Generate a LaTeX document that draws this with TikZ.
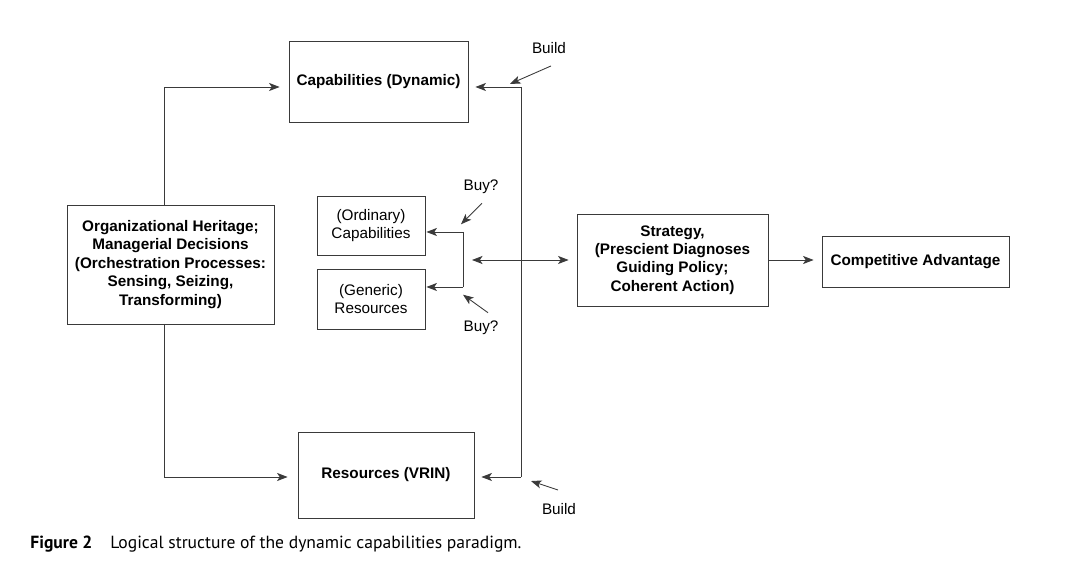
\documentclass[tikz,border=0pt]{standalone}
\usepackage{fontspec}
\setmainfont{Liberation Sans}
\newfontfamily\capfont{PT Sans}
\usetikzlibrary{arrows.meta}
\definecolor{ink}{HTML}{3A3A3A}
\begin{document}
\begin{tikzpicture}[x=0.02cm,y=-0.02cm,>={Stealth[length=6pt,width=4.6pt,inset=1.5pt]},
	every node/.style={font=\fontsize{8.7}{10.5}\selectfont,text=black},
	box/.style={draw=ink,line width=0.5pt,inner sep=0pt,align=center},
	bigbox/.style={box,font=\fontsize{8.7}{10.5}\selectfont\bfseries},
	link/.style={draw=ink,line width=0.5pt,->},
	note/.style={inner sep=0pt}]
	\useasboundingbox (0,0) rectangle (1065,573);
	% boxes
	\node[bigbox,minimum width=3.58cm,minimum height=1.62cm] (dyncap) at (378.5,81.5) {Capabilities (Dynamic)};
	\node[bigbox,minimum width=4.14cm,minimum height=2.38cm] (heritage) at (170.5,264.5) {Organizational Heritage;\\Managerial Decisions\\(Orchestration Processes:\\Sensing, Seizing,\\Transforming)};
	\node[box,minimum width=2.16cm,minimum height=1.18cm] (ordcap) at (371,225.5) {(Ordinary)\\Capabilities};
	\node[box,minimum width=2.16cm,minimum height=1.2cm] (genres) at (371,299) {(Generic)\\Resources};
	\node[bigbox,minimum width=3.82cm,minimum height=1.84cm] (strategy) at (672.5,260) {Strategy,\\(Prescient Diagnoses\\Guiding Policy;\\Coherent Action)};
	\node[bigbox,minimum width=3.74cm,minimum height=1.02cm] (advantage) at (915.5,261.5) {Competitive Advantage};
	\node[bigbox,minimum width=3.52cm,minimum height=1.72cm] (vrin) at (386,475) {Resources (VRIN)};
	% labels
	\node[note] (buildtop) at (549,48) {Build};
	\node[note] (buildbot) at (559,509) {Build};
	\node[note] (buytop) at (481,187) {Buy?};
	\node[note] (buybot) at (481,328) {Buy?};
	% corners
	\coordinate (hup) at (164,205);
	\coordinate (hdown) at (164,324);
	\coordinate (rtop) at (521,87);
	\coordinate (rbot) at (521,477);
	\coordinate (ftop) at (463,232);
	\coordinate (fbot) at (463,287);
	\coordinate (mid) at (472,260);
	% connectors
	\draw[link] (hup) |- ([shift={(-9,0)}]dyncap.west |- rtop);
	\draw[link] (hdown) |- ([shift={(-10,0)}]vrin.west |- rbot);
	\draw[link] (rtop) -- ([shift={(7,0)}]dyncap.east |- rtop);
	\draw[link] (rbot) -- ([shift={(7,0)}]vrin.east |- rbot);
	\draw[draw=ink,line width=0.5pt] (rtop) -- (rbot);
	\draw[draw=ink,line width=0.5pt] (ftop) -- (fbot);
	\draw[link] (ftop) -- ([shift={(1,0)}]ordcap.east |- ftop);
	\draw[link] (fbot) -- ([shift={(1,0)}]genres.east |- fbot);
	\draw[link,<->] (mid) -- ([shift={(-8,0)}]strategy.west |- mid);
	\draw[link] (strategy.east |- mid) -- ([shift={(-8,0)}]advantage.west |- mid);
	\draw[link] ([shift={(2,12)}]buildtop.south) -- ++(-41,18);
	\draw[link] ([shift={(-1,-13)}]buildbot.north) -- ++(-27,-9);
	\draw[link] ([shift={(1,9)}]buytop.south) -- ++(-21,21);
	\draw[link] ([shift={(7,-8)}]buybot.north) -- ++(-25,-18);
	% caption
	\node[anchor=west,inner sep=0pt,font=\capfont\fontsize{10}{12}\selectfont\bfseries] (fignum) at (30,544) {Figure 2};
	\node[anchor=west,inner sep=0pt,font=\capfont\fontsize{10}{12}\selectfont] (figtext) at (110,544) {Logical structure of the dynamic capabilities paradigm.};
\end{tikzpicture}
\end{document}
